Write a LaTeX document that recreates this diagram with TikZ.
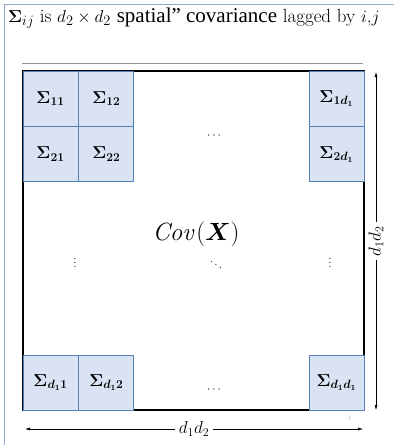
\documentclass[tikz,border=0pt]{standalone}
\usepackage{amsmath,amssymb}
\usepackage[no-math]{fontspec}
\usepackage{xcolor}
\usepackage{tikz}
\usetikzlibrary{arrows.meta,positioning}
\newfontfamily\tms{Liberation Serif}
\definecolor{cellblue}{RGB}{218,227,243}
\definecolor{celledge}{RGB}{84,130,180}
\definecolor{frameblue}{RGB}{143,170,210}
\newcommand{\sg}[1]{\boldsymbol{\Sigma}_{#1}}
\newcommand{\bsg}[1]{\boldsymbol{\Sigma_{#1}}}
\tikzset{
  cell/.style={draw=celledge,fill=cellblue,line width=0.8pt,minimum width=55pt,
               minimum height=55pt,inner sep=0pt,font=\fontsize{17}{19}\selectfont},
  dimarrow/.style={{Latex[length=5pt,width=3pt]}-{Latex[length=5pt,width=3pt]},line width=0.5pt},
  dimlabel/.style={fill=white,inner sep=4pt,font=\fontsize{18}{20}\selectfont},
  dots/.style={font=\fontsize{12}{14}\selectfont}
}

\begin{document}
\begin{tikzpicture}[x=1pt,y=-1pt]
    \useasboundingbox (0,0) rectangle (394,445);
    % slide frame and title
    \draw[frameblue,line width=1pt] (4,445) -- (4,4) -- (394,4);
    \node[anchor=west,inner sep=0pt,font=\fontsize{19}{22}\selectfont] (title) at (8,18)
      {$\sg{ij}$ is $d_2\times d_2$ {\fontsize{21}{22}\selectfont\tms spatial” covariance} lagged by $i$,$j$};
    \draw[gray!85,line width=0.8pt] (22,63) -- (363,63);
    % the big matrix
    \node[draw,line width=1.8pt,minimum width=341pt,minimum height=339pt,inner sep=0pt]
      (covbox) at (193.5,240.5) {};
    \node[font=\fontsize{26}{30}\selectfont] (covx) at (196,234) {$\mathit{Cov}(\boldsymbol{X})$};
    % blocks
    \node[cell] (s11) at (50.5,98.5) {$\bsg{11}$};
    \node[cell,right=0pt of s11] (s12) {$\bsg{12}$};
    \node[cell,below=0pt of s11] (s21) {$\bsg{21}$};
    \node[cell,right=0pt of s21] (s22) {$\bsg{22}$};
    \node[cell] (s1d) at (336.5,98.5) {$\bsg{1d_1}$};
    \node[cell,below=0pt of s1d] (s2d) {$\bsg{2d_1}$};
    \node[cell] (sd1) at (50.5,382.5) {$\bsg{d_11}$};
    \node[cell,right=0pt of sd1] (sd2) {$\bsg{d_12}$};
    \node[cell] (sdd) at (336.5,382.5) {$\bsg{d_1d_1}$};
    % dots
    \node[dots] (toprow) at (215,136) {$\cdots$};
    \node[dots] (botrow) at (215,390) {$\cdots$};
    \node[dots] (leftcol) at (75,260) {$\vdots$};
    \node[dots] (rightcol) at (330,260) {$\vdots$};
    \node[dots] (diag) at (216,262) {$\ddots$};
    % dimensions
    \coordinate (vtop) at (376,72);
    \coordinate (vbot) at (376,410);
    \coordinate (hleft) at (25,429);
    \coordinate (hright) at (363,429);
    \draw[dimarrow] (vtop) -- node[dimlabel,rotate=90] (vlab) {$d_1d_2$} (vbot);
    \draw[dimarrow] (hleft) -- node[dimlabel] (hlab) {$d_1d_2$} (hright);
    \node[gray!60,font=\scriptsize] (pagenum) at (349,418) {3};
\end{tikzpicture}
\end{document}
